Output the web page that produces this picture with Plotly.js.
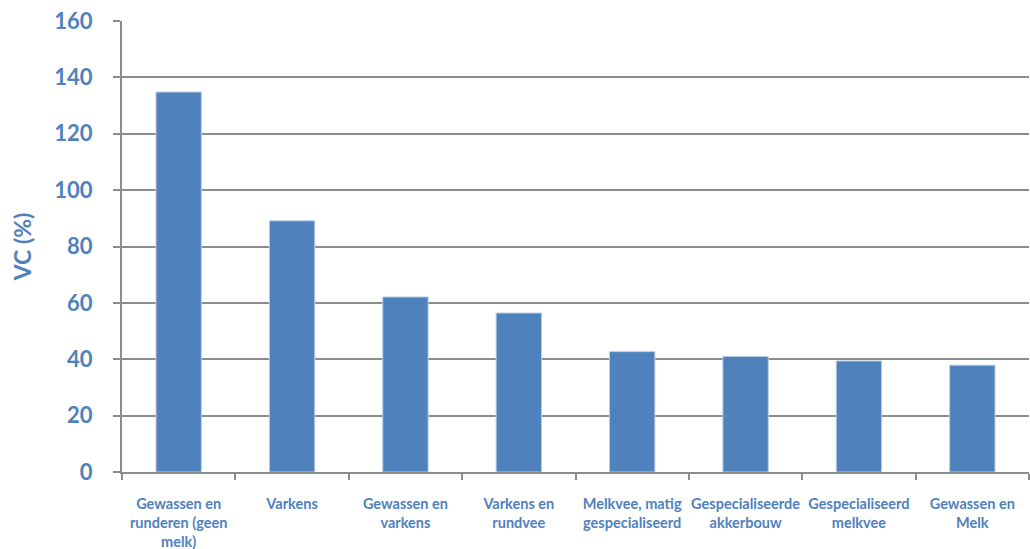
<!DOCTYPE html>
<html><head><meta charset="utf-8">
<script src="https://cdn.plot.ly/plotly-3.0.1.min.js"></script>
<style>body{margin:0;background:#fff}#c{width:1030px;height:549px}</style>
</head><body><div id="c"></div>
<script>
const categories = [
  "Gewassen en<br>runderen (geen<br>melk)",
  "Varkens",
  "Gewassen en<br>varkens",
  "Varkens en<br>rundvee",
  "Melkvee, matig<br>gespecialiseerd",
  "Gespecialiseerde<br>akkerbouw",
  "Gespecialiseerd<br>melkvee",
  "Gewassen en<br>Melk"
];
const vcValues = [134.8, 89.1, 62.1, 56.4, 42.7, 41.0, 39.4, 37.9];
const yTickVals = [0, 20, 40, 60, 80, 100, 120, 140, 160];

const blue = "#4F81BD";
const txt = "#4F81BD";
const grid = "#8C8C8C";

Plotly.newPlot("c", [{
  type: "bar",
  x: categories,
  y: vcValues,
  marker: {color: blue, line: {color: "#B9CDE5", width: 1}},
  hoverinfo: "none"
}], {
  width: 1030, height: 549,
  margin: {l: 122, r: 1, t: 21, b: 77},
  paper_bgcolor: "#fff", plot_bgcolor: "#fff",
  bargap: 0.6,
  showlegend: false,
  font: {family: "Lato, 'Open Sans', sans-serif", color: txt},
  xaxis: {
    type: "category",
    tickson: "boundaries",
    ticks: "outside", ticklen: 6, tickcolor: grid, tickwidth: 2,
    showline: true, linecolor: grid, linewidth: 2,
    showgrid: false,
    tickfont: {size: 14.5, color: txt, family: "Lato, sans-serif", weight: "bold"},
    ticklabelstandoff: 18,
    tickangle: 0,
    automargin: false
  },
  yaxis: {
    range: [0, 160],
    tickvals: yTickVals,
    ticks: "outside", ticklen: 7, tickcolor: grid, tickwidth: 2,
    showline: true, linecolor: grid, linewidth: 2,
    showgrid: true, gridcolor: grid, gridwidth: 2,
    zeroline: false,
    tickfont: {size: 22, color: txt, family: "Lato, sans-serif", weight: "bold"},
    ticklabelstandoff: 16,
    title: {text: "VC (%)", font: {size: 23, color: txt, family: "Lato, sans-serif", weight: "bold"}, standoff: 16},
    automargin: false
  }
}, {staticPlot: true});
</script>
</body></html>
